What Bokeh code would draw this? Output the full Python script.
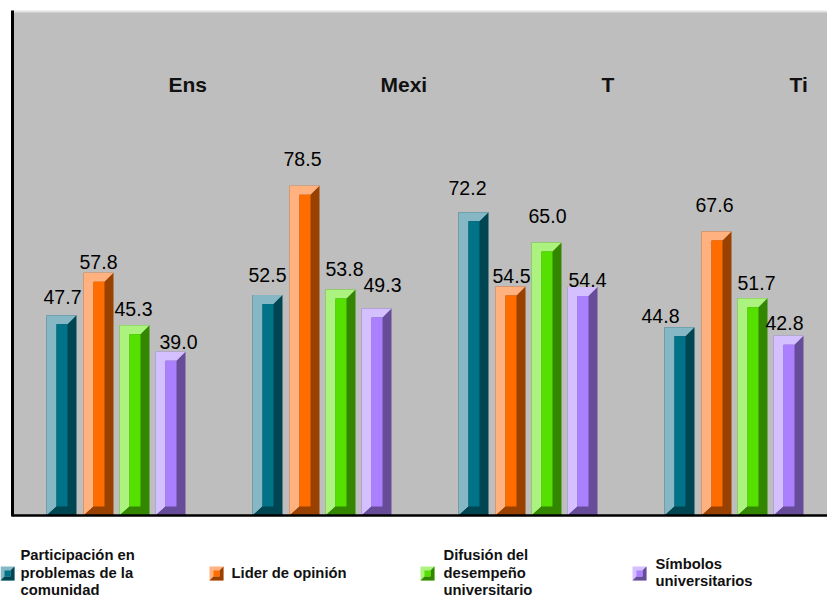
from bokeh.plotting import figure
from bokeh.embed import file_html
from bokeh.resources import INLINE
from bokeh.models import Range1d, Label, PolyAnnotation
from bokeh.core.properties import value

groups = ["Ens", "Mexi", "T", "Ti"]
series = ["Participación en\nproblemas de la\ncomunidad", "Lider de opinión",
          "Difusión del\ndesempeño\nuniversitario", "Símbolos\nuniversitarios"]
participacion = [47.7, 52.5, 72.2, 44.8]
lider = [57.8, 78.5, 54.5, 67.6]
difusion = [45.3, 53.8, 65.0, 51.7]
simbolos = [39.0, 49.3, 54.4, 42.8]
values = [participacion, lider, difusion, simbolos]
light = ["#85B8C4", "#FFB27F", "#ABF27F", "#D4BFFF"]
front = ["#007388", "#FF6C00", "#55E000", "#AA80FF"]
dark = ["#004552", "#994100", "#338600", "#664C99"]
label_dx = [[1, 0, -6, -19], [0, -2, 1, -2], [-1, 4, 1, 4], [8, 6, 5, -4]]
label_dy = [[-18, -20, -24, -11], [-11, -27, -11, -27], [-16, -21, -27, -15], [-10, -23, -7, -13]]

W, H = 827, 597
left, top, bottom = 12, 11, 515
G = 206.0            # px per group
PY = (bottom - top) / 120.0
c0 = 115.5

p = figure(width=W, height=H, output_backend="svg", toolbar_location=None,
           x_range=Range1d(-c0 / G, (W - c0) / G),
           y_range=Range1d(-(H - bottom) / PY, 120 + top / PY),
           min_border=0, background_fill_color="white", border_fill_color="white",
           outline_line_color=None, margin=(0, 0, 0, 0))
p.grid.visible = False
p.axis.visible = False

xl = (left - c0) / G
xr = (W - c0) / G
p.quad(left=[xl], right=[xr], bottom=[0], top=[120], fill_color="#BEBEBE", line_color=None)
p.line([xl, xr], [120, 120], line_color="#E2E2E2", line_width=2)

off = [-54.5 / G, -17.5 / G, 18.5 / G, 54.5 / G]
hw = 15 / G
bl, br = 10 / G, 9 / G
by = 9 / PY
for s, vals in enumerate(values):
    xc = [i + off[s] for i in range(len(groups))]
    L = [x - hw for x in xc]
    R = [x + hw for x in xc]
    p.vbar(x=xc, top=vals, bottom=0, width=2 * hw, fill_color=dark[s], line_color=None)
    p.patches([[l, l + bl, l + bl, r - br, r, l] for l, r in zip(L, R)],
              [[0, by, v - by, v - by, v, v] for v in vals],
              fill_color=light[s], line_color=None)
    p.patches([[l, r, r - br, l + bl] for l, r in zip(L, R)],
              [[0, 0, by, by] for _ in vals],
              fill_color=dark[s], line_color=None)
    p.quad(left=[l + bl for l in L], right=[r - br for r in R],
           bottom=[by] * len(vals), top=[v - by for v in vals],
           fill_color=front[s], line_color=None)

p.line([xl, xl], [-1 / PY, 120 + 1 / PY], line_color="black", line_width=3)
p.line([xl, xr], [0, 0], line_color="black", line_width=2.5)

for s, vals in enumerate(values):
    xc = [i + off[s] for i in range(len(groups))]
    p.text(x=xc, y=vals, text=[f"{v:.1f}" for v in vals], text_align="center",
           text_baseline="middle", x_offset=label_dx[s], y_offset=label_dy[s], text_color="#000000",
           text_font=value("Liberation Sans"), text_font_size="19.5px")

def sy(y):
    return H - y

for name, x in zip(groups, [169, 381, 602, 790]):
    p.add_layout(Label(x=x - 1, y=sy(83.5), x_units="screen", y_units="screen", text=name,
                       text_font="Liberation Sans", text_font_style="bold",
                       text_font_size="21px", text_color="#111111", text_baseline="middle"))

leg_x = [21, 232, 444, 656]
sw_x = [0, 209, 420, 632]
line_h = 17.4
for s, name in enumerate(series):
    lines = name.split("\n")
    start = 572 - (len(lines) - 1) * line_h / 2
    for j, t in enumerate(lines):
        p.add_layout(Label(x=leg_x[s] - 1, y=sy(start + j * line_h), x_units="screen", y_units="screen",
                           text=t, text_font="Liberation Sans", text_font_style="bold",
                           text_font_size="14.8px", text_color="#111111", text_baseline="middle"))
    a, b = sw_x[s], sw_x[s] + 14
    t, d = 566, 580
    def poly(xs, ys, c):
        p.add_layout(PolyAnnotation(xs=xs, ys=[sy(y) for y in ys], xs_units="screen", ys_units="screen",
                                    fill_color=c, fill_alpha=1, line_color=None))
    poly([a, b, b, a], [t, t, d, d], light[s])
    poly([b, b, a, a + 4, b - 4, b - 4], [t, d, d, d - 4, d - 4, t + 4], dark[s])
    poly([a + 4, b - 4, b - 4, a + 4], [t + 4, t + 4, d - 4, d - 4], front[s])

open("out.html", "w").write(file_html(p, INLINE))
